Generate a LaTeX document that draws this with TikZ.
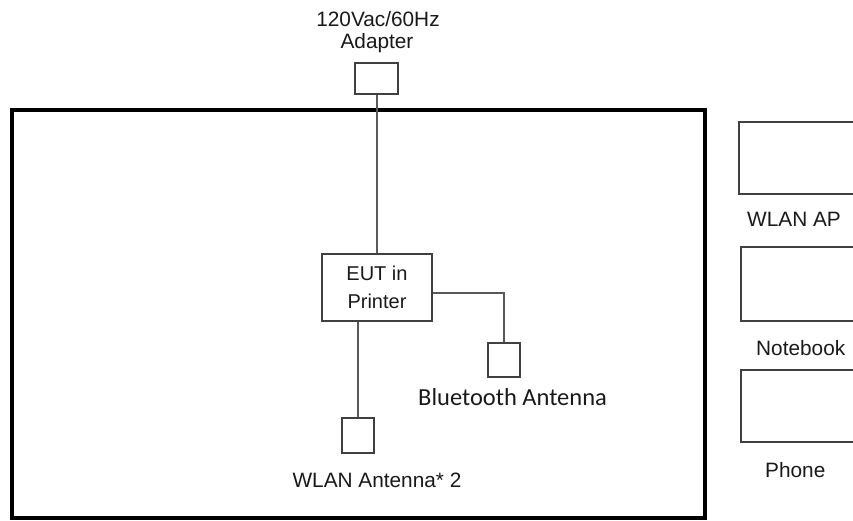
\documentclass[tikz,border=0pt]{standalone}
\usepackage{fontspec}
\setmainfont{Liberation Sans}
\newfontfamily\calib{Carlito}
\begin{document}
\begin{tikzpicture}[x=1pt,y=-1pt,
  dev/.style={draw=black!75,line width=1.8pt,rectangle,inner sep=0pt},
  wire/.style={draw=black!65,line width=2pt},
  lbl/.style={inner sep=0pt,text=black!90,font=\fontsize{20.8}{24}\selectfont}]
\useasboundingbox (0,0) rectangle (853,521);
\draw[line width=3.5pt,black] (12,110) rectangle (705,518);
% devices
\node[dev,minimum width=43pt,minimum height=31pt] (adapter) at (376.5,78.5) {};
\node[dev,minimum width=110pt,minimum height=67pt,align=center,
  font=\fontsize{20}{28}\selectfont,text=black!90] (eut) at (377,287.5) {EUT in\\Printer};
\node[dev,minimum width=32pt,minimum height=34pt] (bt) at (504,360) {};
\node[dev,minimum width=32pt,minimum height=35pt] (want) at (358,435.5) {};
\node[dev,minimum width=131pt,minimum height=72pt] (ap) at (804.5,158) {};
\node[dev,minimum width=129pt,minimum height=74pt] (nb) at (805.5,284) {};
\node[dev,minimum width=129pt,minimum height=72pt] (ph) at (805.5,406) {};
% connectors
\draw[wire] (adapter.south) -- (adapter.south |- eut.north);
\draw[wire] (want.north |- eut.south) -- (want.north);
\draw[wire] ([yshift=-5.5pt]eut.east) -| (bt.north);
% labels
\node[lbl,anchor=base] (t1) at (378,27) {120Vac/60Hz};
\node[lbl,anchor=base] (t2) at (377,49) {Adapter};
\node[lbl,anchor=base west,font=\calib\fontsize{24.5}{28}\selectfont] (tbt) at (418,405) {Bluetooth Antenna};
\node[lbl,anchor=base] (twa) at (377,487) {WLAN Antenna* 2};
\node[lbl,anchor=base west] (tap) at (747,226) {WLAN AP};
\node[lbl,anchor=base west] (tnb) at (756,355) {Notebook};
\node[lbl,anchor=base west] (tph) at (765,477) {Phone};
\end{tikzpicture}
\end{document}
